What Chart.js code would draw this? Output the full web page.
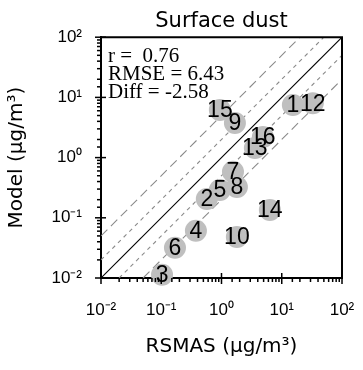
<!DOCTYPE html>
<html>
<head>
<meta charset="utf-8">
<script src="https://cdn.jsdelivr.net/npm/chart.js@4/dist/chart.umd.min.js"></script>
<style>
html, body { margin: 0; padding: 0; background: #fff; }
</style>
</head>
<body>
<canvas id="myChart" width="363" height="370"></canvas>
<script>
// station numbers and values (ug/m3)
const stations = ['1', '2', '3', '4', '5', '6', '7', '8', '9', '10', '12', '13', '14', '15', '16'];
const rsmas = [15.3, 0.57, 0.103, 0.376, 0.94, 0.169, 1.55, 1.8, 1.67, 1.8, 32.8, 3.58, 6.35, 0.94, 4.86];
const model = [7.45, 0.206, 0.0113, 0.061, 0.29, 0.0317, 0.58, 0.325, 3.75, 0.048, 8.0, 1.44, 0.135, 6.2, 2.2];

const tickValues = [0.01, 0.1, 1, 10, 100];
const tickLabels = ['10\u207B\u00B2', '10\u207B\u00B9', '10\u2070', '10\u00B9', '10\u00B2'];

// reference lines 1:1, 2:1, 1:2, 5:1, 1:5 (end points)
const oneX = [0.01, 100], oneY = [0.01, 100];
const twoUpX = [0.01, 50], twoUpY = [0.02, 100];
const twoDnX = [0.02, 100], twoDnY = [0.01, 50];
const fiveUpX = [0.01, 20], fiveUpY = [0.05, 100];
const fiveDnX = [0.05, 100], fiveDnY = [0.01, 20];

const statLines = ['r =  0.76', 'RMSE = 6.43', 'Diff = -2.58'];

function pts(xs, ys) {
    return xs.map((x, i) => ({x: x, y: ys[i]}));
}

function refLine(xs, ys, color, dash) {
    return {
        type: 'scatter',
        data: pts(xs, ys),
        showLine: true,
        pointRadius: 0,
        borderColor: color,
        borderWidth: 1.1,
        borderDash: dash,
        order: 1
    };
}

function isMajor(v) {
    const l = Math.log10(v);
    return Math.abs(l - Math.round(l)) < 1e-6;
}

function tickLabel(v) {
    if (!isMajor(v)) return '';
    const i = tickValues.findIndex(t => Math.abs(Math.log10(t) - Math.log10(v)) < 1e-6);
    return i >= 0 ? tickLabels[i] : '';
}

const tickFont = {family: 'Liberation Sans', size: 17};
const titleFont = {family: 'DejaVu Sans', size: 20};

// tick marks, frame, labels and stats text
const extras = {
    id: 'extras',
    afterDatasetsDraw(chart) {
        const ctx = chart.ctx;
        const meta = chart.getDatasetMeta(0);
        ctx.save();
        ctx.fillStyle = '#000';
        ctx.font = '23px "Liberation Sans"';
        ctx.textAlign = 'center';
        ctx.textBaseline = 'middle';
        meta.data.forEach((el, i) => {
            ctx.fillText(stations[i], el.x, el.y + 1);
        });
        ctx.restore();
    },
    afterDraw(chart) {
        const ctx = chart.ctx;
        const a = chart.chartArea;
        const xs = chart.scales.x, ys = chart.scales.y;
        ctx.save();
        ctx.strokeStyle = '#000';
        ctx.lineWidth = 2;
        ctx.beginPath();
        ctx.moveTo(a.left, a.top);
        ctx.lineTo(a.right, a.top);
        ctx.lineTo(a.right, a.bottom);
        ctx.stroke();

        ctx.lineWidth = 1.5;
        xs.ticks.forEach(t => {
            const px = xs.getPixelForValue(t.value);
            const major = isMajor(t.value);
            ctx.beginPath();
            ctx.moveTo(px, a.bottom - (major ? 5 : 0));
            ctx.lineTo(px, a.bottom + (major ? 6 : 4));
            ctx.stroke();
        });
        ys.ticks.forEach(t => {
            const py = ys.getPixelForValue(t.value);
            const major = isMajor(t.value);
            ctx.beginPath();
            ctx.moveTo(a.left + (major ? 5 : 0), py);
            ctx.lineTo(a.left - (major ? 6 : 4), py);
            ctx.stroke();
        });

        ctx.fillStyle = '#000';
        ctx.font = '21px "Liberation Serif"';
        ctx.textAlign = 'left';
        ctx.textBaseline = 'alphabetic';
        statLines.forEach((s, i) => {
            ctx.fillText(s, a.left + 7, 62 + i * 18);
        });
        ctx.restore();
    }
};

const config = {
    type: 'scatter',
    data: {
        datasets: [
            {
                data: pts(rsmas, model),
                backgroundColor: '#bfbfbf',
                borderWidth: 0,
                pointRadius: 11,
                clip: false,
                order: 0
            },
            refLine(oneX, oneY, '#000', []),
            refLine(twoUpX, twoUpY, '#8a8a8a', [4, 4]),
            refLine(twoDnX, twoDnY, '#8a8a8a', [4, 4]),
            refLine(fiveUpX, fiveUpY, '#8a8a8a', [9, 5]),
            refLine(fiveDnX, fiveDnY, '#8a8a8a', [9, 5])
        ]
    },
    options: {
        responsive: false,
        animation: false,
        layout: {padding: {left: 0, right: 21, top: 0, bottom: 0}},
        plugins: {
            legend: {display: false},
            tooltip: {enabled: false},
            title: {
                display: true,
                text: 'Surface dust',
                fullSize: false,
                color: '#000',
                font: {family: 'DejaVu Sans', size: 21, weight: 'normal'},
                padding: {top: 9, bottom: 3}
            }
        },
        scales: {
            x: {
                type: 'logarithmic',
                min: 0.01,
                max: 100,
                grid: {display: false, drawTicks: false},
                border: {display: true, color: '#000', width: 2},
                ticks: {autoSkip: false, maxRotation: 0, padding: 22, color: '#000', font: tickFont, callback: v => tickLabel(v)},
                title: {display: true, text: 'RSMAS (\u03BCg/m\u00B3)', color: '#000', font: titleFont, padding: {top: 0, bottom: 11}},
                afterFit: s => { s.height = 92; s.paddingLeft = 0; s.paddingRight = 0; }
            },
            y: {
                type: 'logarithmic',
                min: 0.01,
                max: 100,
                grid: {display: false, drawTicks: false},
                border: {display: true, color: '#000', width: 2},
                ticks: {autoSkip: false, padding: 19, color: '#000', font: tickFont, callback: v => tickLabel(v)},
                title: {display: true, text: 'Model (\u03BCg/m\u00B3)', color: '#000', font: titleFont, padding: {top: 5, bottom: 0}},
                afterFit: s => { s.width = 101; s.paddingTop = 0; s.paddingBottom = 0; }
            }
        }
    },
    plugins: [extras]
};

new Chart(document.getElementById('myChart'), config);
</script>
</body>
</html>
